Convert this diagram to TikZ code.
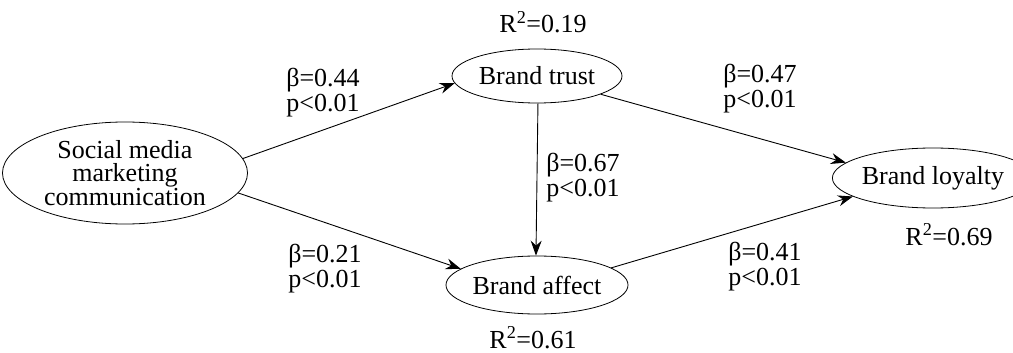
\documentclass[tikz,border=0pt]{standalone}
\usepackage{fontspec}
\setmainfont{Liberation Serif}
\usetikzlibrary{shapes.geometric,arrows.meta}
\tikzset{
  ell/.style={ellipse, draw, line width=0.8pt, inner sep=0pt, align=center},
  lab/.style={align=center, inner sep=0pt},
  arr/.style={-{Stealth[length=15pt,width=11pt,inset=5pt]}, line width=0.9pt},
}
\begin{document}
\begin{tikzpicture}[x=1pt,y=-1pt,font=\fontsize{26}{25}\selectfont]
\useasboundingbox (0,0) rectangle (1013,353);
\node[ell, minimum width=245pt, minimum height=102pt, font=\fontsize{26}{23.5}\selectfont] (soc) at (125,173) {Social media\\marketing\\communication};
\node[ell, minimum width=170pt, minimum height=54pt] (trust) at (537,76) {Brand trust};
\node[ell, minimum width=171pt, minimum height=58pt] (aff) at (537,285) {Brand affect};
\node[ell, minimum width=160pt, minimum height=60pt] (loy) at (933,178) {Brand loyalty};

\node[anchor=base, inner sep=0pt] (r1) at (543,33) {R\textsuperscript{2}=0.19};
\node[anchor=base, inner sep=0pt] (r2) at (533,348) {R\textsuperscript{2}=0.61};
\node[anchor=base, inner sep=0pt] (r3) at (949,245) {R\textsuperscript{2}=0.69};

\node[lab] (l1) at (323,93) {β=0.44\\p<0.01};
\node[lab] (l2) at (760,89) {β=0.47\\p<0.01};
\node[lab] (l3) at (583,178) {β=0.67\\p<0.01};
\node[lab] (l4) at (325,269) {β=0.21\\p<0.01};
\node[lab] (l5) at (765,267) {β=0.41\\p<0.01};

\draw[arr] (soc.7) -- (trust.185);
\draw[arr] (soc.-10) -- (aff.168);
\draw[arr] (trust.-16) -- (loy.170);
\draw[arr] (aff.13) -- (loy.193);
\draw[arr] (trust.-88) -- (aff.92);
\end{tikzpicture}
\end{document}
